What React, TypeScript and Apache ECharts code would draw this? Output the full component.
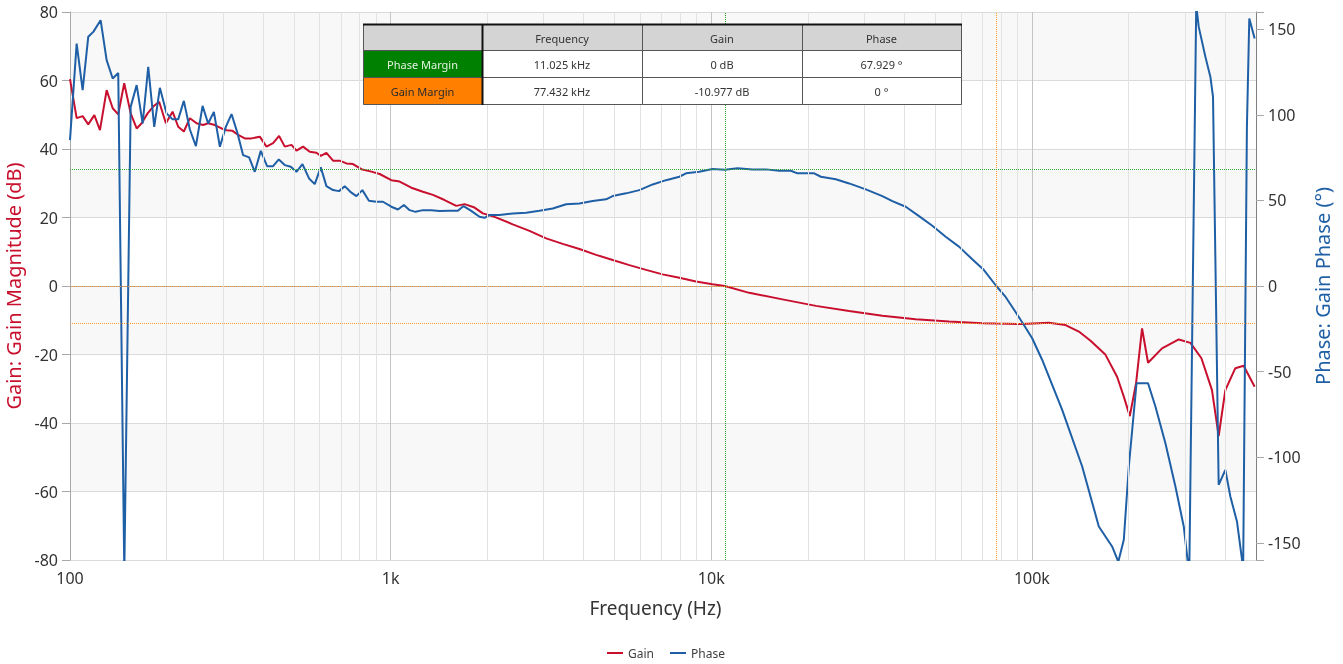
import React, { useEffect, useRef } from 'react';
import * as echarts from 'echarts';

// ---- data ----
const gainFreq = [100, 104.9, 109.5, 114.0, 119.1, 124.0, 130.1, 135.9, 141.4, 147.6,
  154.6, 161.4, 167.3, 174.6, 181.8, 189.7, 199.1, 208.9, 217.5, 226.5,
  236.5, 248.2, 260.2, 269.7, 283.0, 297.0, 307.8, 321.3, 334.5, 351.0,
  368.2, 390.8, 410.0, 430.0, 448.9, 467.6, 490.6, 508.5, 533.2, 559.4,
  587.0, 605.4, 630.6, 661.2, 693.8, 727.9, 763.2, 810.6, 870.9, 924.3,
  1005, 1067, 1160, 1261, 1355, 1473, 1602, 1701, 1827, 1939,
  2109, 2404, 2710, 3055, 3441, 3880, 4374, 4926, 5554, 6261,
  7052, 7950, 8960, 10090, 11025, 13130, 16680, 21200, 26910, 34170,
  43410, 55130, 70000, 77432, 93270, 112960, 127350, 140100, 152400, 169700,
  184400, 193500, 202000, 211300, 220600, 230300, 254600, 287100, 312200, 337900,
  364500, 382400, 401200, 431000, 457500, 495200];
const gainDb = [60.4, 49.0, 49.6, 47.2, 49.9, 45.5, 57.2, 51.9, 50.1, 59.2,
  50.4, 46.0, 47.5, 50.4, 52.4, 53.8, 47.5, 50.9, 46.5, 45.1,
  49.0, 47.5, 47.0, 47.5, 47.0, 46.0, 45.5, 45.3, 44.1, 43.1,
  43.1, 43.6, 40.7, 41.7, 43.8, 40.7, 41.2, 39.5, 40.7, 39.2,
  38.9, 38.0, 38.9, 36.6, 36.6, 35.8, 35.6, 34.1, 33.4, 32.7,
  30.9, 30.5, 28.7, 27.5, 26.6, 25.1, 23.4, 23.9, 22.9, 21.2,
  20.2, 18.0, 16.1, 13.9, 12.3, 10.8, 9.1, 7.6, 6.1, 4.7,
  3.4, 2.4, 1.3, 0.5, 0, -2.0, -3.9, -5.8, -7.3, -8.7,
  -9.7, -10.4, -10.9, -10.98, -11.1, -10.7, -11.4, -13.3, -16.0, -20.1,
  -26.5, -32.3, -38.0, -28.4, -12.4, -22.4, -18.2, -15.6, -16.6, -21.1,
  -30.4, -43.8, -30.4, -24.0, -23.3, -29.4];

const phaseFreq = [100, 104.9, 109.5, 114.0, 118.2, 124.6, 130.1, 135.9, 141.4, 147.7,
  154.6, 161.4, 168.5, 175.4, 183.1, 190.7, 200.1, 208.9, 217.5, 226.5,
  236.5, 247.0, 259.1, 269.7, 281.0, 293.4, 306.2, 319.0, 333.1, 346.7,
  361.9, 377.0, 393.6, 411.8, 430.0, 447.9, 467.6, 488.2, 508.5, 530.9,
  556.6, 579.9, 605.4, 630.6, 661.2, 690.3, 719.1, 749.0, 781.9, 816.3,
  855.7, 902.6, 946.3, 1005, 1054, 1100, 1146, 1196, 1261, 1339,
  1421, 1527, 1621, 1688, 1784, 1893, 1963, 2034, 2186, 2404,
  2647, 2912, 3203, 3527, 3880, 4268, 4698, 4926, 5424, 5967,
  6566, 7226, 7950, 8340, 9177, 10090, 11025, 12080, 13450, 14810,
  16290, 17710, 18570, 20940, 21970, 24460, 26910, 30340, 34170, 36720,
  40420, 44460, 48920, 53840, 59230, 65170, 70870, 77432, 82810, 88930,
  94440, 100200, 107700, 124300, 143500, 161700, 177900, 186000, 193500, 200600,
  212000, 230300, 242800, 260900, 280300, 297600, 309600, 325500, 331400, 347700,
  360400, 367200, 382400, 401200, 415900, 436100, 451900, 455800, 468400, 476500,
  495200];
const phaseDeg = [85.2, 141.6, 114.4, 145.5, 148.4, 155.2, 131.9, 121.2, 124.4, -167.4,
  104.6, 117.3, 94.9, 127.9, 92.9, 115.7, 100.8, 97.3, 97.3, 108.1,
  91.4, 81.7, 105.2, 94.9, 101.7, 81.3, 92.9, 100.4, 89.1, 76.4,
  75.1, 66.7, 78.9, 70.0, 70.0, 73.9, 70.6, 69.6, 66.7, 71.2,
  62.8, 59.5, 69.3, 58.3, 56.0, 55.4, 58.3, 55.0, 52.5, 56.0,
  49.8, 49.2, 49.2, 46.3, 44.7, 47.3, 44.3, 43.3, 44.3, 44.3,
  43.8, 43.9, 43.9, 46.7, 43.9, 40.4, 39.8, 41.4, 41.4, 42.4,
  42.8, 43.9, 45.3, 47.7, 48.2, 49.6, 50.6, 52.5, 54.1, 56.0,
  59.3, 61.8, 63.8, 65.8, 66.7, 68.3, 67.9, 68.7, 68.1, 68.1,
  67.3, 67.3, 65.8, 65.8, 63.8, 62.3, 59.9, 56.4, 52.5, 49.6,
  46.3, 40.8, 35.2, 28.8, 23.0, 15.6, 9.3, 0, -6.4, -15.2,
  -22.8, -30.5, -43.2, -72.3, -105.4, -140.4, -152.1, -161.0, -148.2, -105.4,
  -56.8, -56.8, -70.4, -91.8, -117.1, -140.4, -168.6, 163.9, 151.3, 133.8,
  122.1, 110.4, -116.1, -107.4, -122.9, -137.5, -159.3, -168.6, 92.9, 156.2,
  144.5];

const minorFreqs = [200, 300, 400, 500, 600, 700, 800, 900,
  2000, 3000, 4000, 5000, 6000, 7000, 8000, 9000,
  20000, 30000, 40000, 50000, 60000, 70000, 80000, 90000,
  200000, 300000, 400000];

// margins
const pmFreq = 11025;
const pmGain = 0;
const pmPhase = 67.929;
const gmFreq = 77432;
const gmGain = -10.977;
const gmPhase = 0;

// table
const tableHeader = ['', 'Frequency', 'Gain', 'Phase'];
const marginNames = ['Phase Margin', 'Gain Margin'];
const marginFreqText = ['11.025 kHz', '77.432 kHz'];
const marginGainText = ['0 dB', '-10.977 dB'];
const marginPhaseText = ['67.929 °', '0 °'];

const FONT = '"Noto Sans", "Open Sans", sans-serif';
const RED = '#c8102e';
const BLUE = '#1f5fa6';
const GREEN = '#2fa82f';
const ORANGE = '#ff9a30';

function fmtFreq(v: number) {
  if (v >= 1000) return v / 1000 + 'k';
  return String(v);
}

function buildTable() {
  const x0 = 363, y0 = 24;
  const colW = [119, 160, 160, 159];
  const rowH = [26, 27, 27];
  const labelColors = ['#008000', '#ff8000'];
  const labelText = ['#e4f2e4', '#2a2a2a'];
  const rows = [tableHeader,
    [marginNames[0], marginFreqText[0], marginGainText[0], marginPhaseText[0]],
    [marginNames[1], marginFreqText[1], marginGainText[1], marginPhaseText[1]]];
  const els: any[] = [];
  let y = y0;
  rows.forEach((row, r) => {
    let x = x0;
    row.forEach((txt, c) => {
      const fill = r === 0 ? '#d4d4d4' : c === 0 ? labelColors[r - 1] : '#ffffff';
      els.push({
        type: 'rect', shape: { x: x + 0.5, y: y + 0.5, width: colW[c], height: rowH[r] },
        style: { fill, stroke: '#555', lineWidth: 1 }, z: 100,
      });
      if (txt) {
        els.push({
          type: 'text', x: x + colW[c] / 2, y: y + rowH[r] / 2 + 1, z: 101,
          style: {
            text: txt, fill: r > 0 && c === 0 ? labelText[r - 1] : '#333',
            fontSize: 11, fontFamily: FONT, align: 'center', verticalAlign: 'middle',
          },
        });
      }
      x += colW[c];
    });
    y += rowH[r];
  });
  const totalW = colW.reduce((a, b) => a + b, 0);
  const totalH = rowH.reduce((a, b) => a + b, 0);
  els.push({ type: 'line', shape: { x1: x0, y1: y0 + 0.5, x2: x0 + totalW + 1, y2: y0 + 0.5 }, style: { stroke: '#111', lineWidth: 2 }, z: 102 });
  els.push({ type: 'line', shape: { x1: x0 + colW[0] + 0.5, y1: y0, x2: x0 + colW[0] + 0.5, y2: y0 + totalH + 1 }, style: { stroke: '#111', lineWidth: 2 }, z: 102 });
  return els;
}

function refSeries(name: string, color: string, yAxisIndex: number, data: any[]) {
  return {
    type: 'line', name, yAxisIndex, data: [], z: 1, silent: true, color,
    markLine: {
      silent: true, symbol: ['none', 'none'], label: { show: false },
      emphasis: { disabled: true },
      lineStyle: { color, type: [1, 1], width: 1, opacity: 1 },
      data,
    },
  };
}

const option: any = {
  animation: false,
  textStyle: { fontFamily: FONT },
  grid: { left: 70, right: 87, top: 12, bottom: 104, containLabel: false, outerBoundsMode: 'none' },
  legend: {
    data: ['Gain', 'Phase'], bottom: 0, left: 602, icon: 'rect', itemWidth: 16, itemHeight: 2,
    itemGap: 16, textStyle: { fontSize: 12, color: '#404040', fontFamily: FONT },
  },
  xAxis: {
    type: 'log', logBase: 10, min: 100, max: 500000,
    name: 'Frequency (Hz)', nameLocation: 'middle', nameGap: 38,
    nameTextStyle: { fontSize: 19, color: '#333', fontFamily: FONT, padding: [0, 15, 0, 0] },
    axisLine: { show: true, lineStyle: { color: '#a8a8a8' } },
    axisTick: { show: true, length: 5, lineStyle: { color: '#a8a8a8' } },
    axisLabel: { fontSize: 16, color: '#333', margin: 10, showMaxLabel: false, formatter: fmtFreq },
    splitLine: { show: true, lineStyle: { color: '#c4c4c4', width: 1 } },
  },
  yAxis: [
    {
      type: 'value', min: -80, max: 80, interval: 20, position: 'left',
      name: 'Gain: Gain Magnitude (dB)', nameLocation: 'middle', nameRotate: 90, nameGap: 42,
      nameTextStyle: { fontSize: 20, color: RED, fontFamily: FONT },
      axisLine: { show: true, lineStyle: { color: '#a8a8a8' } },
      axisTick: { show: true, length: 8, lineStyle: { color: '#a8a8a8' } },
      axisLabel: { fontSize: 16, color: '#333', margin: 12 },
      splitLine: { show: true, lineStyle: { color: '#dadada', width: 1 } },
      splitArea: { show: true, areaStyle: { color: ['#ffffff', '#f8f8f8'] } },
    },
    {
      type: 'value', min: -160, max: 160, splitNumber: 6, position: 'right',
      name: 'Phase: Gain Phase (°)', nameLocation: 'middle', nameRotate: 90, nameGap: 56,
      nameTextStyle: { fontSize: 20, color: BLUE, fontFamily: FONT },
      axisLine: { show: true, lineStyle: { color: '#808080' } },
      axisTick: { show: true, length: 8, lineStyle: { color: '#a8a8a8' } },
      axisLabel: {
        fontSize: 16, color: '#333', margin: 12,
        formatter: (v: number) => (Math.round(v) % 50 === 0 ? String(v) : ''),
      },
      splitLine: { show: false },
    },
  ],
  series: [
    {
      type: 'line', name: '_minor', data: [], z: 1, silent: true, color: '#e2e2e2',
      markLine: {
        silent: true, symbol: ['none', 'none'], label: { show: false },
        lineStyle: { color: '#e2e2e2', width: 1, type: 'solid' },
        emphasis: { disabled: true },
        data: minorFreqs.map((f) => ({ xAxis: f })),
      },
    },
    refSeries('_pmGain', GREEN, 0, [{ xAxis: pmFreq }, { yAxis: pmGain }]),
    refSeries('_gmGain', ORANGE, 0, [{ xAxis: gmFreq }, { yAxis: gmGain }]),
    refSeries('_pmPhase', GREEN, 1, [{ yAxis: pmPhase }]),
    refSeries('_gmPhase', ORANGE, 1, [{ yAxis: gmPhase }]),
    {
      type: 'line', name: 'Gain', yAxisIndex: 0, z: 3,
      data: gainFreq.map((f, i) => [f, gainDb[i]]),
      showSymbol: false, symbol: 'none',
      lineStyle: { color: RED, width: 2 }, itemStyle: { color: RED },
    },
    {
      type: 'line', name: 'Phase', yAxisIndex: 1, z: 3,
      data: phaseFreq.map((f, i) => [f, phaseDeg[i]]),
      showSymbol: false, symbol: 'none',
      lineStyle: { color: BLUE, width: 2 }, itemStyle: { color: BLUE },
    },
  ],
  graphic: buildTable(),
};

export default function App() {
  const ref = useRef<HTMLDivElement>(null);
  useEffect(() => {
    const chart = echarts.init(ref.current as HTMLDivElement, null, { renderer: 'svg' });
    chart.setOption(option);
    return () => chart.dispose();
  }, []);
  return <div ref={ref} style={{ position: 'fixed', left: 0, top: 0, width: 1343, height: 664 }} />;
}
